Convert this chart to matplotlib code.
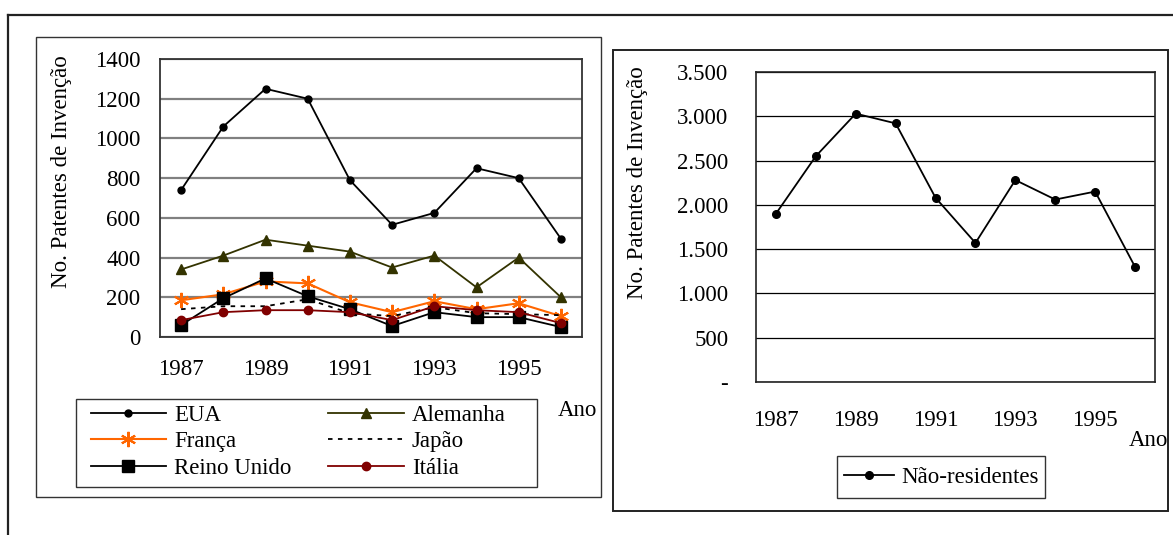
import matplotlib
matplotlib.use("Agg")
import matplotlib.pyplot as plt
from matplotlib.patches import Rectangle
from matplotlib.lines import Line2D

plt.rcParams['font.family'] = 'Liberation Serif'
plt.rcParams['font.size'] = 16.5

# anos e patentes de invenção concedidas
anos = ['1987', '1988', '1989', '1990', '1991', '1992', '1993', '1994', '1995', '1996']
eua = [740, 1060, 1250, 1200, 790, 565, 625, 850, 800, 495]
alemanha = [340, 410, 490, 460, 430, 350, 410, 250, 400, 200]
franca = [185, 215, 280, 270, 175, 125, 180, 140, 170, 105]
japao = [140, 155, 155, 190, 120, 105, 150, 120, 115, 110]
reino_unido = [60, 195, 295, 205, 140, 55, 125, 100, 100, 50]
italia = [85, 125, 135, 135, 125, 85, 155, 135, 125, 70]
nao_residentes = [1900, 2550, 3030, 2920, 2080, 1570, 2280, 2060, 2150, 1300]

W, H = 1173, 535
fig = plt.figure(figsize=(W / 100, H / 100), dpi=100)


def box(x0, y0, x1, y1):
    # posição em pixels (origem no canto superior esquerdo) -> coordenadas da figura
    return [x0 / W, 1 - y1 / H, (x1 - x0) / W, (y1 - y0) / H]


def frame(x0, y0, x1, y1, lw=1.0, color='#333333'):
    r = box(x0, y0, x1, y1)
    fig.patches.append(Rectangle((r[0], r[1]), r[2], r[3], transform=fig.transFigure,
                                 fill=False, lw=lw, edgecolor=color))


# moldura externa e caixas dos dois gráficos
fig.add_artist(Line2D([8 / W, 1], [1 - 15 / H, 1 - 15 / H], transform=fig.transFigure, color='#222222', lw=1.6))
fig.add_artist(Line2D([8 / W, 8 / W], [0, 1 - 15 / H], transform=fig.transFigure, color='#222222', lw=1.6))
frame(36, 37, 601, 497)
frame(613, 50, 1168, 511, lw=1.4, color='#222222')

x = range(len(anos))

# ---- gráfico da esquerda: por país ----
ax1 = fig.add_axes(box(160, 59, 582, 337))
ax1.plot(x, eua, color='black', lw=1.3, marker='o', ms=5, label='EUA')
ax1.plot(x, alemanha, color='#333300', lw=1.3, marker='^', ms=7, label='Alemanha')
ax1.plot(x, franca, color='#ff6600', lw=1.5, marker=(6, 2, 0), ms=11, mew=1.5, label='França')
ax1.plot(x, japao, color='black', lw=1.3, ls=(0, (2.5, 3)), label='Japão')
ax1.plot(x, reino_unido, color='black', lw=1.3, marker='s', ms=8, label='Reino Unido')
ax1.plot(x, italia, color='#800000', lw=1.3, marker='o', ms=6, label='Itália')

ax1.set_xlim(-0.5, 9.5)
ax1.set_ylim(0, 1400)
ax1.set_yticks(range(0, 1401, 200))
ax1.set_xticks(range(0, 10, 2))
ax1.set_xticklabels(anos[::2])
ax1.tick_params(axis='y', length=0, pad=14)
ax1.tick_params(axis='x', length=0, pad=16)
ax1.grid(axis='y', color='#808080', lw=1.6)
ax1.set_axisbelow(True)
for s in ax1.spines.values():
    s.set_color('#333333')
    s.set_linewidth(1.3)

fig.text(62 / W, 1 - 172 / H, 'No. Patentes de Invenção', rotation=90, ha='center', va='center')
fig.text(577 / W, 1 - 410 / H, 'Ano', ha='center', va='center')

handles, labels = ax1.get_legend_handles_labels()
order = [0, 2, 4, 1, 3, 5]
ax1.legend([handles[i] for i in order], [labels[i] for i in order], ncol=2,
           loc='upper left', bbox_to_anchor=(86 / W, 1 - 400 / H), bbox_transform=fig.transFigure,
           frameon=False, handlelength=3.3, handletextpad=0.35, columnspacing=1.6,
           labelspacing=0.25, borderpad=0.2, borderaxespad=0)
frame(76, 399, 537, 487, lw=1.0)

# ---- gráfico da direita: não-residentes ----
ax2 = fig.add_axes(box(756, 72, 1155, 382))
ax2.plot(x, nao_residentes, color='black', lw=1.3, marker='o', ms=5.5, label='Não-residentes')
ax2.set_xlim(-0.5, 9.5)
ax2.set_ylim(0, 3500)
ax2.set_yticks(range(0, 3501, 500))
ax2.set_yticklabels(['-'] + [f'{v:,}'.replace(',', '.') for v in range(500, 3501, 500)])
ax2.set_xticks(range(0, 10, 2))
ax2.set_xticklabels(anos[::2])
ax2.tick_params(axis='y', length=0, pad=20)
ax2.tick_params(axis='x', length=0, pad=20)
ax2.grid(axis='y', color='black', lw=0.9)
ax2.set_axisbelow(True)
for s in ax2.spines.values():
    s.set_color('#222222')
    s.set_linewidth(1.2)

fig.text(638 / W, 1 - 183 / H, 'No. Patentes de Invenção', rotation=90, ha='center', va='center')
fig.text(1148 / W, 1 - 440 / H, 'Ano', ha='center', va='center')

ax2.legend(loc='center', bbox_to_anchor=(941 / W, 1 - 477 / H), bbox_transform=fig.transFigure,
           frameon=False, handlelength=2.2, handletextpad=0.3, borderpad=0.2, borderaxespad=0)
frame(837, 456, 1045, 498, lw=1.0)

fig.savefig('out.png', dpi=100)
